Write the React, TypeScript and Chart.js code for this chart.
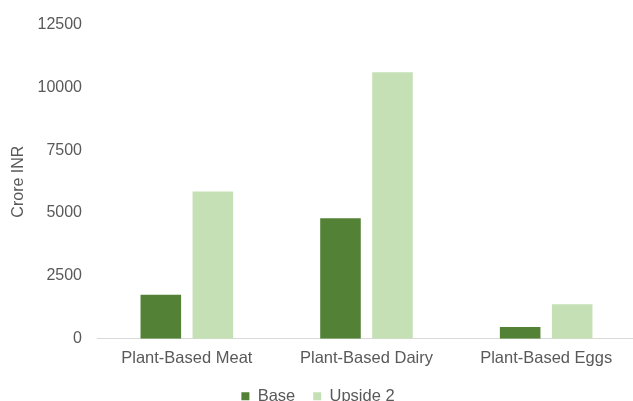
import React, { useEffect, useRef } from "react";
import { Chart, registerables } from "chart.js";

Chart.register(...registerables);

const categories = ["Plant-Based Meat", "Plant-Based Dairy", "Plant-Based Eggs"];
const baseValues = [1750, 4790, 470];
const upside2Values = [5860, 10600, 1370];
const seriesNames = ["Base", "Upside 2"];
const yMin = 0;
const yMax = 12500;
const yStep = 2500;
const yTitle = "Crore INR";

const FONT = "'Liberation Sans', Arial, sans-serif";
const TEXT = "#595959";

const legendShift = {
  id: "legendShift",
  afterLayout(chart: any) {
    const lg = chart.legend;
    if (lg) {
      lg.top -= 8.5;
      lg.bottom -= 8.5;
    }
  },
};

export default function App() {
  const ref = useRef<HTMLCanvasElement | null>(null);

  useEffect(() => {
    if (!ref.current) return;
    const chart = new Chart(ref.current, {
      type: "bar",
      data: {
        labels: categories,
        datasets: [
          {
            label: seriesNames[0],
            data: baseValues,
            backgroundColor: "#538135",
            categoryPercentage: 0.579,
            barPercentage: 0.78,
          },
          {
            label: seriesNames[1],
            data: upside2Values,
            backgroundColor: "#C5E0B4",
            categoryPercentage: 0.579,
            barPercentage: 0.78,
          },
        ],
      },
      plugins: [legendShift],
      options: {
        animation: false,
        responsive: true,
        maintainAspectRatio: false,
        layout: { padding: { top: 24, left: 0, right: 0, bottom: 0 } },
        plugins: {
          tooltip: { enabled: false },
          legend: {
            position: "bottom",
            labels: {
              boxWidth: 8,
              boxHeight: 8,
              padding: 18,
              color: TEXT,
              font: { family: FONT, size: 16.5 },
            },
          },
        },
        scales: {
          x: {
            grid: { display: false, drawTicks: false },
            border: { display: true, color: "#D9D9D9", width: 1 },
            ticks: { color: TEXT, padding: 10, font: { family: FONT, size: 16.5 }, maxRotation: 0 },
          },
          y: {
            min: yMin,
            max: yMax,
            grid: { display: false, drawTicks: false },
            border: { display: false },
            ticks: {
              stepSize: yStep,
              color: TEXT,
              padding: 15,
              font: { family: FONT, size: 16 },
              callback: (v: any) => String(v),
            },
            title: {
              display: true,
              text: yTitle,
              color: TEXT,
              font: { family: FONT, size: 16 },
              padding: { top: 9, bottom: 0 },
            },
            afterFit: (scale: any) => {
              scale.width = 97;
            },
          },
        },
      },
    });
    return () => chart.destroy();
  }, []);

  return (
    <div style={{ position: "fixed", left: 0, top: 0, width: 633, height: 401, overflow: "hidden", background: "#fff" }}>
      <div style={{ position: "absolute", left: 0, top: 0, width: 636, height: 423 }}>
        <canvas ref={ref} />
      </div>
    </div>
  );
}
